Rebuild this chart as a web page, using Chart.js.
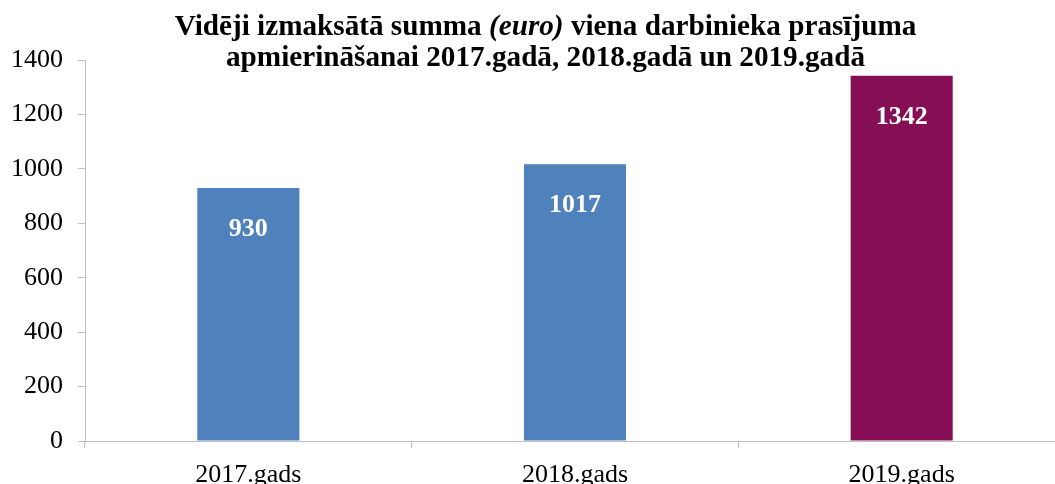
<!DOCTYPE html>
<html>
<head>
<meta charset="utf-8">
<script src="https://cdn.jsdelivr.net/npm/chart.js@4"></script>
<style>
  html, body { margin: 0; padding: 0; background: #fff; overflow: hidden; }
  #wrap { position: relative; width: 1065px; height: 484px; }
  #title {
    position: absolute; left: 0; top: 10px; width: 1091px;
    text-align: center; font-family: "Liberation Serif", "Times New Roman", serif;
    font-weight: bold; font-size: 29.2px; line-height: 31px; color: #000;
    z-index: 2;
  }
</style>
</head>
<body>
<div id="wrap">
  <div id="title">Vidēji izmaksātā summa <i>(euro)</i> viena darbinieka prasījuma<br>apmierināšanai 2017.gadā, 2018.gadā un 2019.gadā</div>
  <canvas id="myChart" width="1065" height="484"></canvas>
</div>
<script>
const years = ["2017.gads", "2018.gads", "2019.gads"]
const amounts = [930, 1017, 1342]
const barColors = ["#4F81BD", "#4F81BD", "#860E55"]
const yTicks = [0, 200, 400, 600, 800, 1000, 1200, 1400]

const axisGray = '#BFBFBF'
const serif = "'Liberation Serif', 'Times New Roman', serif"

// white value labels inside the bar tops
const valueLabels = {
    id: 'valueLabels',
    afterDatasetsDraw(chart) {
        const ctx = chart.ctx
        const meta = chart.getDatasetMeta(0)
        ctx.save()
        ctx.font = 'bold 26px ' + serif
        ctx.fillStyle = '#fff'
        ctx.textAlign = 'center'
        ctx.textBaseline = 'middle'
        meta.data.forEach((bar, i) => {
            ctx.fillText(String(amounts[i]), bar.x, bar.y + 41)
        })
        ctx.restore()
    }
}

new Chart("myChart", {
    type: "bar",
    data: {
        labels: years,
        datasets: [{
            backgroundColor: barColors,
            data: amounts,
            categoryPercentage: 1,
            barPercentage: 0.3125
        }]
    },
    options: {
        responsive: false,
        animation: false,
        layout: {padding: {top: 60, left: 0, right: 0, bottom: 0}},
        plugins: {
            title: {display: false},
            legend: {display: false},
            tooltip: {enabled: false}
        },
        scales: {
            y: {
                min: 0,
                max: 1400,
                afterBuildTicks: s => { s.ticks = yTicks.map(v => ({value: v})) },
                afterFit: s => { s.width = 85 },
                border: {color: axisGray, width: 1},
                grid: {drawOnChartArea: false, color: axisGray, tickLength: 7},
                ticks: {
                    color: '#000', padding: 15, font: {family: serif, size: 26},
                    callback: v => String(v)
                }
            },
            x: {
                afterFit: s => { s.height = 43 },
                border: {color: axisGray, width: 1},
                grid: {drawOnChartArea: false, color: axisGray, tickLength: 7, offset: true},
                ticks: {color: '#000', padding: 12, font: {family: serif, size: 26}}
            }
        }
    },
    plugins: [valueLabels]
});
</script>
</body>
</html>
